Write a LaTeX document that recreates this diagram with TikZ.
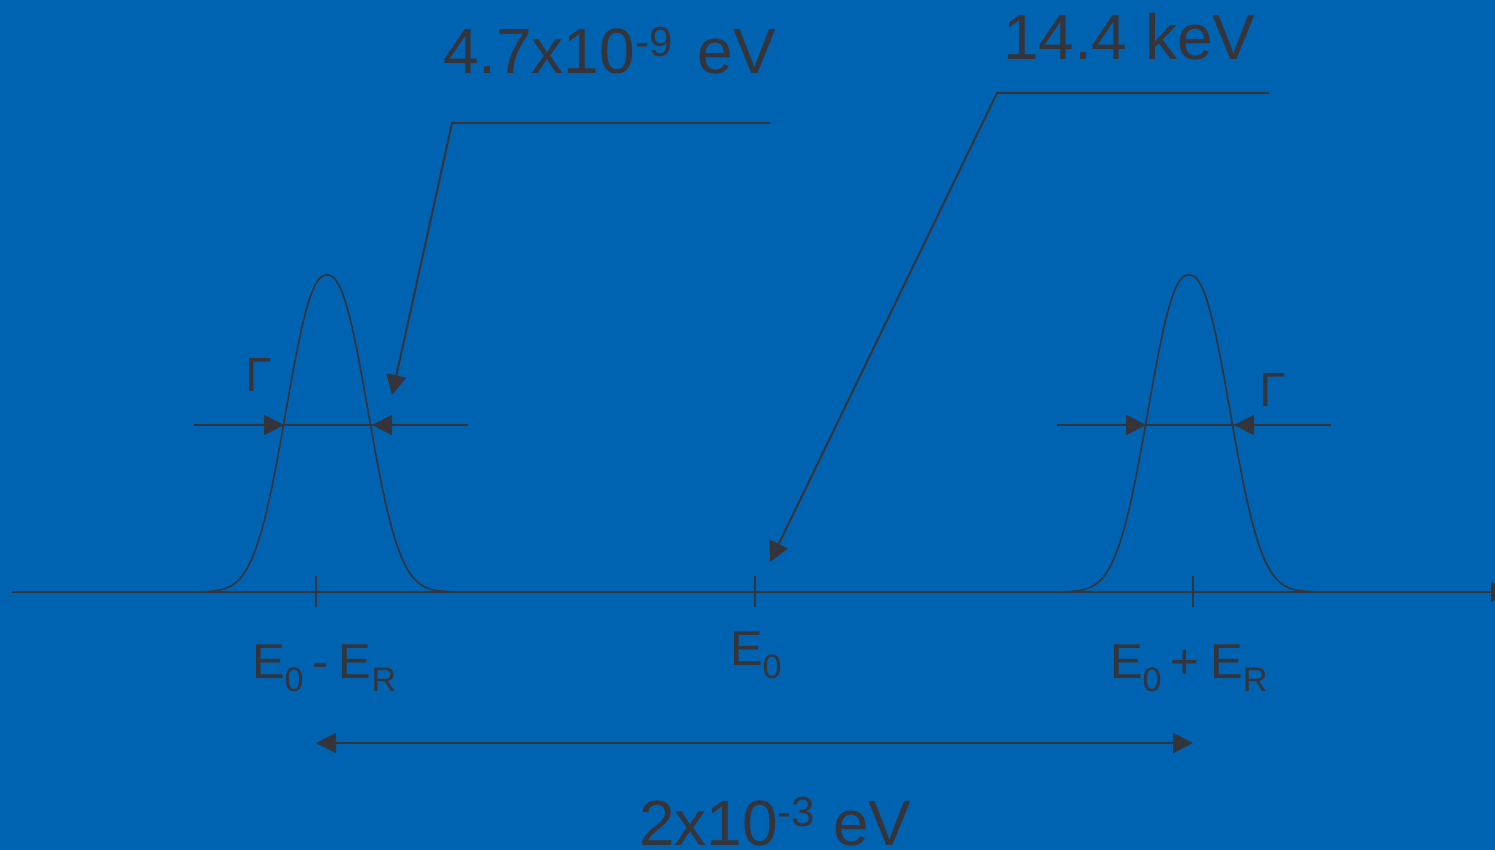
\documentclass[tikz,border=0pt]{standalone}
\usepackage{fontspec}
\setmainfont{Liberation Sans}
\usetikzlibrary{arrows.meta}
\definecolor{bgblue}{RGB}{0,99,178}
\definecolor{inkc}{RGB}{52,52,58}
\newcommand{\mysub}[1]{\raisebox{-13pt}{\fontsize{34}{36}\selectfont #1}}
\newcommand{\mysup}[2]{\raisebox{#1}{\fontsize{42}{44}\selectfont #2}}
\begin{document}
\begin{tikzpicture}[x=1pt,y=-1pt,line width=2pt,inkc,line join=miter,
  tipend/.style={-{Triangle[length=20pt,width=20pt]}},
  bothend/.style={{Triangle[length=20pt,width=20pt]}-{Triangle[length=20pt,width=20pt]}},
  biglbl/.style={anchor=base west,inner sep=0pt,text=inkc,font=\fontsize{64}{70}\selectfont},
  elbl/.style={anchor=base west,inner sep=0pt,text=inkc,font=\fontsize{49}{54}\selectfont},
  gamlbl/.style={anchor=base west,inner sep=0pt,text=inkc,font=\fontsize{48}{52}\selectfont},
  peak/.style={line width=1.6pt}]
\fill[bgblue] (0,0) rectangle (1495,850);
\useasboundingbox (0,0) rectangle (1495,850);
\clip (0,0) rectangle (1495,850);

% axis
\coordinate (ax0) at (12,592);
\coordinate (ax1) at (1511,592);
\draw[tipend] (ax0) -- (ax1);

% ticks
\coordinate (t1a) at (316,576); \coordinate (t1b) at (316,607);
\coordinate (t2a) at (755,576); \coordinate (t2b) at (755,607);
\coordinate (t3a) at (1193,576); \coordinate (t3b) at (1193,607);
\draw (t1a) -- (t1b);
\draw (t2a) -- (t2b);
\draw (t3a) -- (t3b);

% peaks
\draw[peak] plot[domain=-2.85:2.85,samples=151,smooth] ({327+52.8*\x},{592-317*exp(-((abs(\x)+0.0001)^2.3))});
\draw[peak] plot[domain=-2.85:2.85,samples=151,smooth] ({1189+52.8*\x},{592-317*exp(-((abs(\x)+0.0001)^2.3))});

% width arrows left
\coordinate (wl0) at (194,425); \coordinate (wl1) at (284,425);
\coordinate (wl2) at (372,425); \coordinate (wl3) at (468,425);
\draw (wl0) -- (wl3);
\draw[tipend] (wl0) -- (wl1);
\draw[tipend] (wl3) -- (wl2);
% width arrows right
\coordinate (wr0) at (1057,425); \coordinate (wr1) at (1146,425);
\coordinate (wr2) at (1234,425); \coordinate (wr3) at (1331,425);
\draw (wr0) -- (wr3);
\draw[tipend] (wr0) -- (wr1);
\draw[tipend] (wr3) -- (wr2);

% Gamma labels
\node[gamlbl] (gl) at (244,391) {Γ};
\node[gamlbl] (gr) at (1258,406) {Γ};

% leader 1
\coordinate (a1) at (770,123);
\coordinate (a2) at (452,123);
\coordinate (a3) at (392,395);
\draw[tipend] (a1) -- (a2) -- (a3);
% leader 2
\coordinate (b1) at (1269,93);
\coordinate (b2) at (997,93);
\coordinate (b3) at (770,562);
\draw[tipend] (b1) -- (b2) -- (b3);

% top labels
\node[biglbl] (lw) at (442,74) {4.7x10\mysup{17pt}{-9}\hspace{25pt}eV};
\node[biglbl] (le) at (1002,60) {14.4 keV};

% E labels
\node[elbl] (el) at (251,678) {E\mysub{0}\hspace{9pt}-\hspace{10pt}E\mysub{R}};
\node[elbl] (em) at (729,665) {E\mysub{0}};
\node[elbl] (er) at (1109,678) {E\mysub{0}\hspace{9pt}+\hspace{11pt}E\mysub{R}};

% separation
\coordinate (s1) at (316,743);
\coordinate (s2) at (1193,743);
\draw[bothend] (s1) -- (s2);
\node[biglbl] (sep) at (638,845) {2x10\mysup{19pt}{-3}\hspace{18pt}eV};
\end{tikzpicture}
\end{document}
